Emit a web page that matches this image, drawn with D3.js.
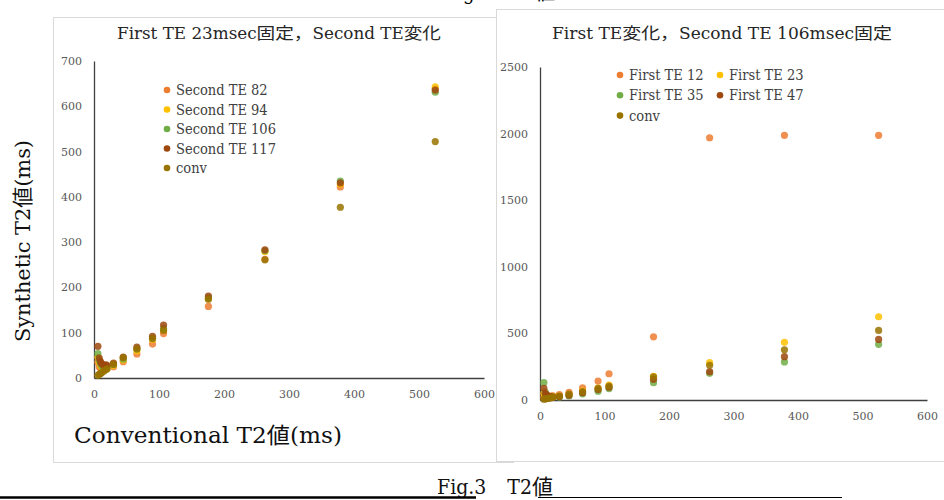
<!DOCTYPE html>
<html>
<head>
<meta charset="utf-8">
<script src="https://cdn.jsdelivr.net/npm/d3@7/dist/d3.min.js"></script>
<style>
  body { margin: 0; background: #fff; }
</style>
</head>
<body>
<svg id="chart" width="944" height="500"></svg>
<script>
// conventional T2 (x) for every sample
const convT2 = [6, 8, 10, 12, 15, 18, 20, 30, 45, 66, 90, 107, 176, 263, 379, 525]
const conv   = [6, 8, 10, 12, 15, 18, 20, 30, 45, 64, 87, 105, 174, 261, 377, 522]

// left: First TE 23 fixed, Second TE varies
const secondTE82  = [35, 25, 22, 20, 20, 22, 22, 25, 36, 53, 75, 98, 158, 262, 422, 638]
const secondTE94  = [46, 35, 28, 24, 22, 24, 23, 28, 40, 60, 85, 106, 175, 279, 428, 643]
const secondTE106 = [54, 40, 32, 27, 25, 26, 24, 30, 42, 64, 88, 109, 177, 281, 435, 631]
const secondTE117 = [70, 44, 36, 31, 28, 29, 28, 33, 46, 68, 92, 117, 181, 283, 431, 636]

// right: Second TE 106 fixed, First TE varies
const firstTE12 = [20, 18, 22, 25, 28, 30, 32, 40, 58, 92, 142, 197, 474, 1969, 1987, 1987]
const firstTE23 = [50, 35, 30, 28, 26, 26, 25, 30, 42, 68, 90, 112, 178, 280, 433, 625]
const firstTE35 = [130, 60, 40, 30, 25, 22, 20, 22, 30, 46, 66, 86, 130, 200, 286, 418]
const firstTE47 = [88, 50, 38, 30, 26, 24, 22, 26, 36, 55, 78, 96, 155, 213, 325, 455]

const xTicks = [0, 100, 200, 300, 400, 500, 600]
const leftYTicks = [0, 100, 200, 300, 400, 500, 600, 700]
const rightYTicks = [0, 500, 1000, 1500, 2000, 2500]

const C = {orange: '#ED7D31', yellow: '#FFC000', green: '#70AD47', brown: '#9E480E', conv: '#997300'}
const NARROW = '"DejaVu Serif Condensed", "DejaVu Serif", "Noto Sans CJK JP", serif'
const WIDE = '"DejaVu Serif", "Noto Sans CJK JP", serif'

const svg = d3.select('#chart')

// cut-off caption of the previous figure
svg.append('text').attr('x', 500).attr('y', 0).attr('text-anchor', 'middle')
  .style('font-family', NARROW).style('font-size', '20px').text('Fig.2　T2値')

// panel frames
svg.append('rect').attr('x', 53.5).attr('y', 17.5).attr('width', 460).attr('height', 445)
  .attr('fill', '#fff').attr('stroke', '#d9d9d9')
svg.append('rect').attr('x', 496.5).attr('y', 9.5).attr('width', 460).attr('height', 452)
  .attr('fill', '#fff').attr('stroke', '#d9d9d9')

function panel(opt){
  const g = svg.append('g')
  const x = d3.scaleLinear().domain([0, 600]).range([opt.x0, opt.x1])
  const y = d3.scaleLinear().domain([0, opt.ymax]).range([opt.y0, opt.y1])

  const yAx = g.append('g').attr('transform', `translate(${opt.x0},0)`)
    .call(d3.axisLeft(y).tickValues(opt.yTicks).tickFormat(d3.format('d'))
      .tickSize(0).tickPadding(opt.x0 - opt.labX))
  const xAx = g.append('g').attr('transform', `translate(0,${opt.y0})`)
    .call(d3.axisBottom(x).tickValues(xTicks).tickFormat(d3.format('d'))
      .tickSize(0).tickPadding(opt.xPad))
  for (const a of [xAx, yAx]) {
    a.select('.domain').attr('stroke', '#404040').attr('stroke-width', 1.3)
    a.selectAll('text').attr('fill', '#595959')
      .style('font-family', WIDE).style('font-size', '11px')
  }

  g.append('text').attr('x', opt.titleX).attr('y', 39).attr('text-anchor', 'middle')
    .style('font-family', NARROW).style('font-size', '16px').attr('fill', '#262626')
    .attr('textLength', opt.titleW).attr('lengthAdjust', 'spacingAndGlyphs').text(opt.title)

  opt.series.forEach(s => {
    g.append('g').selectAll('circle')
      .data(convT2.map((v, i) => [v, s.values[i]]))
      .enter().append('circle')
      .attr('cx', d => x(d[0])).attr('cy', d => y(d[1]))
      .attr('r', 3.6).attr('fill', s.color).attr('fill-opacity', 0.85)
  })

  const leg = g.append('g')
  opt.series.forEach((s, i) => {
    const lx = opt.legX + (i % opt.legCols) * opt.legColW
    const ly = opt.legY + Math.floor(i / opt.legCols) * opt.legRowH
    leg.append('circle').attr('cx', lx).attr('cy', ly).attr('r', 3.3).attr('fill', s.color)
    leg.append('text').attr('x', lx + 9).attr('y', ly + 5)
      .style('font-family', NARROW).style('font-size', '14.5px')
      .attr('fill', '#404040').text(s.name)
  })
}

panel({
  x0: 94, x1: 484, y0: 378, y1: 61, ymax: 700, yTicks: leftYTicks, labX: 82, xPad: 12,
  title: 'First TE 23msec固定，Second TE変化', titleX: 279, titleW: 324,
  legX: 167, legY: 90, legCols: 1, legColW: 0, legRowH: 19.5,
  series: [
    {name: 'Second TE 82', values: secondTE82, color: C.orange},
    {name: 'Second TE 94', values: secondTE94, color: C.yellow},
    {name: 'Second TE 106', values: secondTE106, color: C.green},
    {name: 'Second TE 117', values: secondTE117, color: C.brown},
    {name: 'conv', values: conv, color: C.conv}
  ]
})

panel({
  x0: 540, x1: 927, y0: 400, y1: 67, ymax: 2500, yTicks: rightYTicks, labX: 528, xPad: 12,
  title: 'First TE変化，Second TE 106msec固定', titleX: 722, titleW: 340,
  legX: 620, legY: 75, legCols: 2, legColW: 100, legRowH: 20.3,
  series: [
    {name: 'First TE 12', values: firstTE12, color: C.orange},
    {name: 'First TE 23', values: firstTE23, color: C.yellow},
    {name: 'First TE 35', values: firstTE35, color: C.green},
    {name: 'First TE 47', values: firstTE47, color: C.brown},
    {name: 'conv', values: conv, color: C.conv}
  ]
})

// axis titles of the left panel
svg.append('text').attr('transform', 'translate(30,241) rotate(-90)').attr('text-anchor', 'middle')
  .style('font-family', WIDE).style('font-size', '21px').attr('fill', '#111')
  .attr('textLength', 202).attr('lengthAdjust', 'spacingAndGlyphs').text('Synthetic T2値(ms)')
svg.append('text').attr('x', 74).attr('y', 443)
  .style('font-family', WIDE).style('font-size', '22px').attr('fill', '#111')
  .attr('textLength', 268).attr('lengthAdjust', 'spacingAndGlyphs').text('Conventional T2値(ms)')

// figure caption and underline rules
svg.append('text').attr('x', 495).attr('y', 494).attr('text-anchor', 'middle')
  .style('font-family', NARROW).style('font-size', '21px').attr('fill', '#111').text('Fig.3　T2値')
svg.append('line').attr('x1', 0).attr('x2', 476).attr('y1', 497.5).attr('y2', 497.5)
  .attr('stroke', '#000').attr('stroke-width', 2.5)
svg.append('line').attr('x1', 538).attr('x2', 842).attr('y1', 497.5).attr('y2', 497.5)
  .attr('stroke', '#000').attr('stroke-width', 1.2)
</script>
</body>
</html>
